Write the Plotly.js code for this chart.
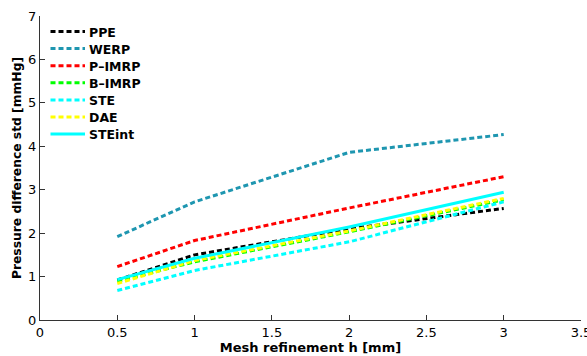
<!DOCTYPE html>
<html>
<head>
<meta charset="utf-8">
<script src="https://cdn.plot.ly/plotly-3.0.1.min.js"></script>
<style>
  html, body { margin: 0; padding: 0; background: #fff; }
  #chart { width: 587px; height: 356px; }
</style>
</head>
<body>
<div id="chart"></div>
<script>
// Mesh sizes h [mm]
const meshSizes = [0.5, 1, 2, 3];

// Standard deviation of the pressure difference [mmHg] for each method
const ppe    = [0.92, 1.50, 2.10, 2.57];
const werp   = [1.92, 2.72, 3.86, 4.27];
const pImrp  = [1.23, 1.83, 2.58, 3.30];
const bImrp  = [0.89, 1.34, 2.03, 2.77];
const ste    = [0.68, 1.14, 1.80, 2.72];
const dae    = [0.84, 1.37, 2.05, 2.80];
const steInt = [0.93, 1.42, 2.14, 2.94];

const seriesNames  = ['PPE', 'WERP', 'P\u2013IMRP', 'B\u2013IMRP', 'STE', 'DAE', 'STEint'];
const seriesData   = [ppe, werp, pImrp, bImrp, ste, dae, steInt];
const seriesColors = ['#000000', '#1e96b0', '#ff0000', '#00ff00', '#00ffff', '#ffff00', '#00ffff'];
const seriesDash   = ['5px,3px', '5px,3px', '5px,3px', '5px,3px', '5px,3px', '5px,3px', 'solid'];

const xTickVals = [0, 0.5, 1, 1.5, 2, 2.5, 3, 3.5];
const yTickVals = [0, 1, 2, 3, 4, 5, 6, 7];

const traces = seriesNames.map((name, i) => ({
  x: meshSizes,
  y: seriesData[i],
  name: name,
  type: 'scatter',
  mode: 'lines',
  line: { color: seriesColors[i], width: 3, dash: seriesDash[i] }
}));

// Plot-area geometry in pixels, used to place the compact legend
const W = 587, H = 356;
const M = { l: 40, r: 6, t: 16, b: 36 };
const toPaperX = px => (px - M.l) / (W - M.l - M.r);
const toPaperY = py => (H - M.b - py) / (H - M.t - M.b);

const legendTop = 31.5, legendStep = 17.1;
const legendShapes = seriesNames.map((name, i) => {
  const yp = toPaperY(legendTop + i * legendStep);
  return {
    type: 'line', xref: 'paper', yref: 'paper',
    x0: toPaperX(50.5), x1: toPaperX(85), y0: yp, y1: yp,
    line: { color: seriesColors[i], width: 3, dash: seriesDash[i] }
  };
});
const legendLabels = seriesNames.map((name, i) => ({
  xref: 'paper', yref: 'paper',
  x: toPaperX(86.5), y: toPaperY(legendTop + i * legendStep + 0.5),
  xanchor: 'left', yanchor: 'middle',
  text: name, showarrow: false,
  font: { family: 'DejaVu Sans, sans-serif', size: 12.5, color: '#000', weight: 'bold' }
}));

const tickFont = { family: 'DejaVu Sans, sans-serif', size: 13, color: '#000' };

const layout = {
  width: W,
  height: H,
  margin: M,
  paper_bgcolor: '#fff',
  plot_bgcolor: '#fff',
  showlegend: false,
  shapes: legendShapes,
  annotations: legendLabels,
  xaxis: {
    range: [0, 3.5],
    tickvals: xTickVals,
    ticks: 'inside', ticklen: 5, tickcolor: '#333',
    showline: true, linecolor: '#333', linewidth: 1,
    showgrid: false, zeroline: false,
    tickfont: tickFont,
    ticklabeloverflow: 'allow',
    ticklabelstandoff: 0,
    title: { text: 'Mesh refinement h [mm]', standoff: 2,
             font: { family: 'DejaVu Sans, sans-serif', size: 13, color: '#000', weight: 'bold' } }
  },
  yaxis: {
    range: [0, 7],
    tickvals: yTickVals,
    ticks: 'inside', ticklen: 5, tickcolor: '#333',
    showline: true, linecolor: '#333', linewidth: 1,
    showgrid: false, zeroline: false,
    tickfont: tickFont,
    title: { text: 'Pressure difference std [mmHg]', standoff: 3,
             font: { family: 'DejaVu Sans, sans-serif', size: 12.3, color: '#000', weight: 'bold' } }
  }
};

Plotly.newPlot('chart', traces, layout, { displayModeBar: false, staticPlot: true });
</script>
</body>
</html>
